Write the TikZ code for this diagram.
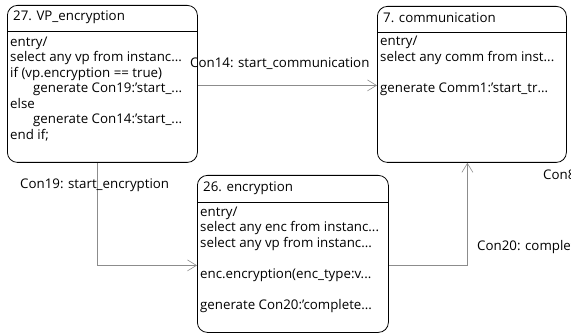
\documentclass[tikz,border=0pt]{standalone}
\usepackage{fontspec}
\setmainfont{Open Sans}
\usetikzlibrary{arrows.meta}
\tikzset{
  statebox/.style={draw=black, line width=0.8pt, rounded corners=10pt, anchor=north west, inner sep=0pt},
  boxtext/.style={anchor=north west, align=left, inner sep=0pt, font=\fontsize{13.3}{15.5}\selectfont},
  titletext/.style={anchor=west, inner sep=0pt, font=\fontsize{13.3}{15.5}\selectfont},
  conn/.style={draw=black!45, line width=0.6pt, -{Straight Barb[length=9pt,width=11pt,line width=0.6pt]}},
  connlabel/.style={anchor=west, inner sep=0pt, font=\fontsize{13.3}{15.5}\selectfont}
}
\begin{document}
\begin{tikzpicture}[x=1pt,y=-1pt]
\useasboundingbox (0,0) rectangle (571,334);
\clip (0,0) rectangle (571,334);
% state 27
\node[statebox, minimum width=190pt, minimum height=157pt] (s27) at (7,5) {};
\draw[line width=0.6pt] ([yshift=-26pt]s27.north west) -- ([yshift=-26pt]s27.north east);
\node[titletext] (t27) at (13,17) {27. VP\_encryption};
\node[boxtext] (b27) at (10,36.5) {entry/\\select any vp from instanc...\\if (vp.encryption == true)\\\hspace*{23pt}generate Con19:'start\_...\\else\\\hspace*{23pt}generate Con14:'start\_...\\end if;};
% state 7
\node[statebox, minimum width=189pt, minimum height=156pt] (s7) at (377,6) {};
\draw[line width=0.6pt] ([yshift=-26pt]s7.north west) -- ([yshift=-26pt]s7.north east);
\node[titletext] (t7) at (383,18) {7. communication};
\node[boxtext] (b7) at (380,36) {entry/\\select any comm from inst...\\ \\generate Comm1:'start\_tr...};
% state 26
\node[statebox, minimum width=191pt, minimum height=157pt] (s26) at (197,175) {};
\draw[line width=0.6pt] ([yshift=-27pt]s26.north west) -- ([yshift=-27pt]s26.north east);
\node[titletext] (t26) at (203,188) {26. encryption};
\node[boxtext] (b26) at (200,206.5) {entry/\\select any enc from instanc...\\select any vp from instanc...\\ \\enc.encryption(enc\_type:v...\\ \\generate Con20:'complete...};
% connectors
\draw[conn] ([yshift=-1.5pt]s27.east) -- ([yshift=-1.5pt]s27.east -| s7.west);
\draw[conn] ([xshift=-5pt]s27.south) |- ([yshift=-11.5pt]s26.west);
\draw[conn] ([yshift=-11.5pt]s26.east) -| ([xshift=-4.5pt]s7.south);
% labels
\node[connlabel] (l14) at (190,64) {Con14: start\_communication};
\node[connlabel] (l19) at (20,185) {Con19: start\_encryption};
\node[connlabel] (l20) at (477,247) {Con20: complete};
\node[connlabel] (l8) at (543,175) {Con8};
\end{tikzpicture}
\end{document}
